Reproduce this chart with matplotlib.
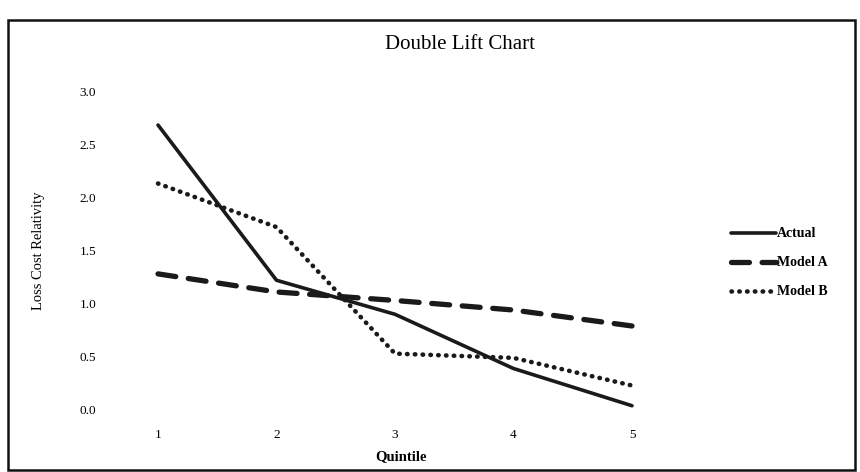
import matplotlib.pyplot as plt
from matplotlib.patches import Rectangle

plt.rcParams["font.family"] = ["Liberation Serif", "DejaVu Serif"]

quintiles = [1, 2, 3, 4, 5]
actual = [2.68, 1.22, 0.9, 0.39, 0.04]
model_a = [1.28, 1.11, 1.03, 0.94, 0.79]
model_b = [2.13, 1.72, 0.53, 0.49, 0.23]
y_ticks = [0.0, 0.5, 1.0, 1.5, 2.0, 2.5, 3.0]

fig = plt.figure(figsize=(8.6, 4.72), dpi=100)
ax = fig.add_axes([0.1424, 0.1314, 0.6476, 0.6758])

ax.plot(quintiles, actual, color="#1a1a1a", lw=2.6, solid_capstyle="round",
        label="Actual", clip_on=False)
ax.plot(quintiles, model_a, color="#1a1a1a", lw=3.8, dashes=(3.4, 2.4),
        dash_capstyle="round", label="Model A", clip_on=False)
ax.plot(quintiles, model_b, color="#1a1a1a", lw=3.3, dashes=(0.1, 1.6),
        dash_capstyle="round", label="Model B", clip_on=False)

ax.set_xlim(0.7, 5.4)
ax.set_ylim(0, 3)
ax.set_xticks(quintiles)
ax.set_yticks(y_ticks)
ax.set_yticklabels([f"{v:.1f}" for v in y_ticks])
ax.tick_params(length=0, labelsize=9.5)
ax.tick_params(axis="y", pad=19)
ax.tick_params(axis="x", pad=14)
for s in ax.spines.values():
    s.set_visible(False)

ax.set_xlabel("Quintile", fontsize=10.5, fontweight="bold", labelpad=6)
ax.set_ylabel("Loss Cost Relativity", fontsize=10.5, labelpad=25)
fig.text(0.535, 0.905, "Double Lift Chart", ha="center", va="center", fontsize=15)

ax.legend(loc="center left", bbox_to_anchor=(0.836, 0.443),
          bbox_transform=fig.transFigure, frameon=False, handlelength=3.2,
          handletextpad=0.1, labelspacing=1.15,
          prop={"weight": "bold", "size": 10})

fig.patches.append(Rectangle((8 / 860, 2 / 472), 847 / 860, 450 / 472,
                             transform=fig.transFigure, fill=False,
                             edgecolor="#111111", lw=1.8))

fig.savefig("out.png", dpi=100)
